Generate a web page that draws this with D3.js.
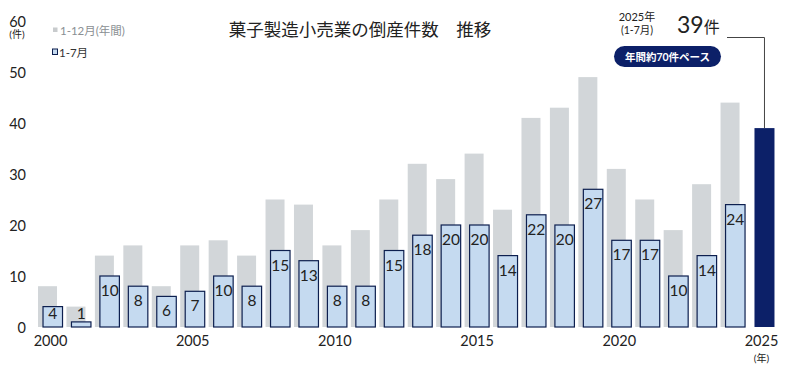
<!DOCTYPE html>
<html>
<head>
<meta charset="utf-8">
<script src="https://cdn.jsdelivr.net/npm/d3@7"></script>
<style>
	body { margin: 0; background: #fff; }
	svg text { font-family: Lato, "Noto Sans CJK JP", sans-serif; fill: #222; }
</style>
</head>
<body>
<div id="chart"></div>
<script>
// data
const years = d3.range(2000, 2026);
const fullYear = [8, 4, 14, 16, 8, 16, 17, 14, 25, 24, 16, 19, 25, 32, 29, 34, 23, 41, 43, 49, 31, 25, 19, 28, 44, null];
const janJul = [4, 1, 10, 8, 6, 7, 10, 8, 15, 13, 8, 8, 15, 18, 20, 20, 14, 22, 20, 27, 17, 17, 10, 14, 24, 39];
const yTicks = [0, 10, 20, 30, 40, 50, 60];
const xTicks = [2000, 2005, 2010, 2015, 2020, 2025];

const width = 796;
const height = 377;

const $svg = d3.select('#chart').append('svg')
	.attr('width', width)
	.attr('height', height);

// scales
const scaleX = d3.scaleBand()
	.domain(years)
	.range([36.3, 775.7])
	.padding(0);

const scaleY = d3.scaleLinear()
	.domain([0, 60])
	.range([327, 21]);

const bw = scaleX.bandwidth();
const cx = d => scaleX(d) + bw / 2;

// y axis labels
$svg.append('g')
	.selectAll('text')
	.data(yTicks)
	.join('text')
	.attr('x', 26)
	.attr('y', d => scaleY(d) + 5.5)
	.attr('text-anchor', 'end')
	.style('font-size', '14.5px')
	.text(d => d);

$svg.append('text')
	.attr('x', 17)
	.attr('y', 38)
	.attr('text-anchor', 'middle')
	.style('font-size', '10px')
	.text('(件)');

// grey bars (annual)
$svg.append('g')
	.selectAll('rect')
	.data(years.map((y, i) => ({ year: y, v: fullYear[i] })).filter(d => d.v != null))
	.join('rect')
	.attr('x', d => cx(d.year) - 12.5)
	.attr('width', 19)
	.attr('y', d => scaleY(d.v))
	.attr('height', d => scaleY(0) - scaleY(d.v))
	.attr('fill', '#d2d6d9');

const jj = years.map((y, i) => ({ year: y, v: janJul[i] }));

// blue bars (Jan-Jul)
$svg.append('g')
	.selectAll('rect')
	.data(jj.filter(d => d.year < 2025))
	.join('rect')
	.attr('x', d => cx(d.year) - 7.5)
	.attr('width', 19.5)
	.attr('y', d => scaleY(d.v))
	.attr('height', d => scaleY(0) - scaleY(d.v))
	.attr('fill', '#c5daf0')
	.attr('stroke', '#0d1f4f')
	.attr('stroke-width', 1.2);

// 2025 bar
const last = jj[jj.length - 1];
$svg.append('rect')
	.attr('x', cx(last.year) - 7)
	.attr('width', 20)
	.attr('y', scaleY(last.v))
	.attr('height', scaleY(0) - scaleY(last.v))
	.attr('fill', '#0c2068');

// value labels
$svg.append('g')
	.selectAll('text')
	.data(jj.filter(d => d.year < 2025))
	.join('text')
	.attr('x', d => cx(d.year) + 2.3)
	.attr('y', d => Math.min(scaleY(d.v) + 20, 318.5))
	.attr('text-anchor', 'middle')
	.style('font-size', '15.5px')
	.text(d => d.v);

// x axis labels
$svg.append('g')
	.selectAll('text')
	.data(xTicks)
	.join('text')
	.attr('x', d => cx(d))
	.attr('y', 346)
	.attr('text-anchor', 'middle')
	.style('font-size', '14.5px')
	.text(d => d);

$svg.append('text')
	.attr('x', cx(2025))
	.attr('y', 362)
	.attr('text-anchor', 'middle')
	.style('font-size', '10px')
	.text('(年)');

// legend
$svg.append('rect')
	.attr('x', 53).attr('y', 27.5).attr('width', 4.5).attr('height', 4.5)
	.attr('fill', '#c8cbcd');
$svg.append('text')
	.attr('x', 60).attr('y', 34.5)
	.style('font-size', '11.5px')
	.style('fill', '#8a8f93')
	.text('1-12月(年間)');
$svg.append('rect')
	.attr('x', 52.5).attr('y', 49).attr('width', 5).attr('height', 5.5)
	.attr('fill', '#c5daf0')
	.attr('stroke', '#0d1f4f')
	.attr('stroke-width', 1);
$svg.append('text')
	.attr('x', 59).attr('y', 56.5)
	.style('font-size', '11.5px')
	.style('fill', '#333')
	.text('1-7月');

// title
$svg.append('text')
	.attr('x', 360)
	.attr('y', 36)
	.attr('text-anchor', 'middle')
	.style('font-size', '17.5px')
	.text('菓子製造小売業の倒産件数　推移');

// callout
$svg.append('text')
	.attr('x', 637).attr('y', 21)
	.attr('text-anchor', 'middle')
	.style('font-size', '11px')
	.text('2025年');
$svg.append('text')
	.attr('x', 637).attr('y', 34)
	.attr('text-anchor', 'middle')
	.style('font-size', '10.5px')
	.text('(1-7月)');
const $big = $svg.append('text')
	.attr('x', 677).attr('y', 33);
$big.append('tspan').style('font-size', '23px').text(last.v);
$big.append('tspan').style('font-size', '16px').text('件');

$svg.append('rect')
	.attr('x', 614).attr('y', 46).attr('width', 107).attr('height', 21)
	.attr('rx', 10.5)
	.attr('fill', '#0c2068');
$svg.append('text')
	.attr('x', 667.5).attr('y', 60.5)
	.attr('text-anchor', 'middle')
	.style('font-size', '10.5px')
	.style('font-weight', 'bold')
	.style('fill', '#fff')
	.text('年間約70件ペース');

$svg.append('path')
	.attr('d', `M727,37.5H${cx(2025) + 3}V${scaleY(last.v)}`)
	.attr('fill', 'none')
	.attr('stroke', '#444')
	.attr('stroke-width', 1);
</script>
</body>
</html>
